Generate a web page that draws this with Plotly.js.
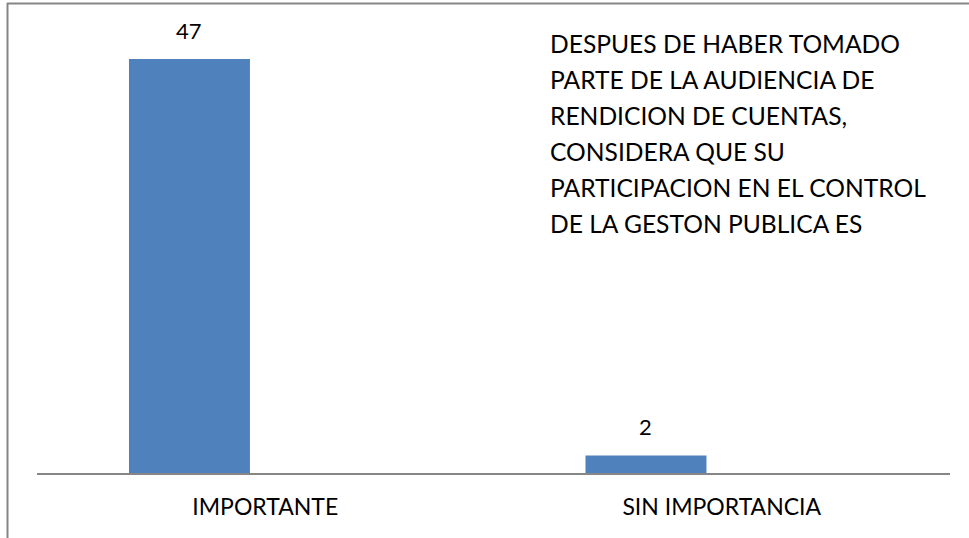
<!DOCTYPE html>
<html>
<head>
<meta charset="utf-8">
<script src="https://cdn.plot.ly/plotly-3.0.1.min.js"></script>
<style>html,body{margin:0;padding:0;background:#fff;}#chart{width:969px;height:538px;}</style>
</head>
<body>
<div id="chart"></div>
<script>
const categories = ['IMPORTANTE', 'SIN IMPORTANCIA'];
const values = [47, 2];
const titleLines = [
  'DESPUES DE HABER TOMADO',
  'PARTE DE LA AUDIENCIA DE',
  'RENDICION DE CUENTAS,',
  'CONSIDERA QUE SU',
  'PARTICIPACION EN EL CONTROL',
  'DE LA GESTON PUBLICA ES'
];

const W = 969, H = 538;
const M = {l: 37, r: 19, t: 3, b: 65};
const PW = W - M.l - M.r, PH = H - M.t - M.b;
const px2x = p => (p - M.l) / PW;
const px2y = p => (H - M.b - p) / PH;

const FONT = 'Lato, "Liberation Sans", sans-serif';
const barOffset = -0.2985, barWidth = 0.265;
const yMax = 53.36;

const trace = {
  type: 'bar',
  x: categories,
  y: values,
  marker: {color: '#4F81BD', line: {width: 0}},
  offset: barOffset,
  width: barWidth,
  hoverinfo: 'none'
};

const annotations = values.map((v, i) => ({
  x: i + barOffset + barWidth / 2,
  y: v,
  xref: 'x', yref: 'y',
  text: String(v),
  showarrow: false,
  yanchor: 'bottom',
  yshift: 13,
  font: {family: FONT, size: 22, color: '#000'}
}));

titleLines.forEach((t, i) => {
  annotations.push({
    x: px2x(548), y: px2y(44 + i * 36),
    xref: 'paper', yref: 'paper',
    xanchor: 'left', yanchor: 'middle',
    text: t, showarrow: false,
    font: {family: FONT, size: 24.6, color: '#000'}
  });
});

const frameColor = '#868686';
const shapes = [
  {type: 'line', xref: 'paper', yref: 'paper', x0: px2x(7.5), x1: px2x(7.5), y0: px2y(3), y1: px2y(538), line: {color: frameColor, width: 2}},
  {type: 'line', xref: 'paper', yref: 'paper', x0: px2x(7), x1: px2x(969), y0: px2y(3.5), y1: px2y(3.5), line: {color: frameColor, width: 2}}
];

const layout = {
  width: W, height: H,
  margin: M,
  paper_bgcolor: '#fff', plot_bgcolor: '#fff',
  showlegend: false,
  xaxis: {
    type: 'category', range: [-0.5, 1.5],
    showline: true, linecolor: frameColor, linewidth: 2,
    ticks: '', showgrid: false, zeroline: false,
    ticklabelstandoff: 12,
    tickfont: {family: FONT, size: 23, color: '#000'},
    fixedrange: true
  },
  yaxis: {range: [0, yMax], visible: false, fixedrange: true},
  annotations: annotations,
  shapes: shapes
};

Plotly.newPlot('chart', [trace], layout, {displayModeBar: false, staticPlot: true});
</script>
</body>
</html>
